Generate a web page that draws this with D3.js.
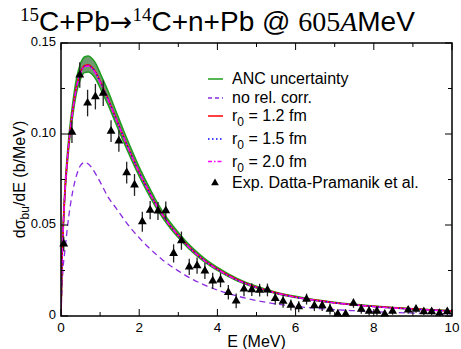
<!DOCTYPE html>
<html>
<head>
<meta charset="utf-8">
<script src="https://cdn.jsdelivr.net/npm/d3@7"></script>
<style>
  body { margin: 0; background: #fff; }
  svg { display: block; }
  .sans { font-family: "Liberation Sans", Arial, sans-serif; }
  .serif { font-family: "Liberation Serif", "Times New Roman", serif; }
</style>
</head>
<body>
<svg id="chart" width="461" height="349"></svg>
<script>
// energy grid of the theory curves (MeV)
var energyGrid = [0, 0.02, 0.05, 0.1, 0.15, 0.2, 0.3, 0.4, 0.5, 0.6, 0.7, 0.8, 0.9, 1.0, 1.2, 1.4, 1.6, 1.8, 2.0, 2.2,
    2.4, 2.6, 2.8, 3.0, 3.25, 3.5, 3.75, 4.0, 4.5, 5.0, 5.5, 6.0, 6.5, 7.0, 7.5, 8.0, 8.5, 9.0, 9.5, 10.0];

// dsigma/dE (b/MeV)
var r12 = [0, 0.025, 0.045, 0.068, 0.083, 0.095, 0.113, 0.1265, 0.134, 0.1375, 0.138, 0.1365, 0.1335, 0.129, 0.1195,
    0.109, 0.0985, 0.0885, 0.079, 0.0705, 0.0625, 0.0555, 0.0495, 0.0443, 0.0385, 0.0335, 0.0293, 0.0258, 0.0200,
    0.0158, 0.0127, 0.0104, 0.0087, 0.0073, 0.0062, 0.0053, 0.0045, 0.0039, 0.0033, 0.0028];
var r15 = [0, 0.025, 0.045, 0.068, 0.083, 0.0948, 0.1128, 0.1262, 0.1337, 0.1372, 0.1377, 0.1362, 0.1332, 0.1288, 0.1193,
    0.1088, 0.0984, 0.0884, 0.0789, 0.0704, 0.0624, 0.0554, 0.0494, 0.0442, 0.0384, 0.0334, 0.0292, 0.0257, 0.0199,
    0.0157, 0.0126, 0.0103, 0.0086, 0.0072, 0.0061, 0.0052, 0.0044, 0.0038, 0.0032, 0.0027];
var r20 = [0, 0.025, 0.045, 0.0678, 0.0828, 0.0946, 0.1125, 0.1259, 0.1334, 0.1369, 0.1374, 0.1359, 0.1329, 0.1285, 0.1191,
    0.1086, 0.0982, 0.0882, 0.0788, 0.0703, 0.0623, 0.0553, 0.0493, 0.0441, 0.0383, 0.0333, 0.0291, 0.0256, 0.0198,
    0.0157, 0.0126, 0.0103, 0.0086, 0.0072, 0.0061, 0.0052, 0.0044, 0.0038, 0.0032, 0.0027];
var ancHigh = [0, 0.026, 0.0466, 0.0704, 0.0859, 0.0983, 0.117, 0.1309, 0.1387, 0.1423, 0.1428, 0.1413, 0.1382, 0.1335,
    0.1237, 0.1128, 0.1019, 0.0916, 0.0818, 0.073, 0.0647, 0.0574, 0.0512, 0.0459, 0.0398, 0.0347, 0.0303, 0.0267,
    0.0207, 0.0164, 0.0131, 0.0108, 0.009, 0.0076, 0.0064, 0.0055, 0.0047, 0.004, 0.0034, 0.0029];
var ancLow = [0, 0.0243, 0.0437, 0.0661, 0.0807, 0.0923, 0.1098, 0.123, 0.1302, 0.1337, 0.1341, 0.1327, 0.1298, 0.1254,
    0.1162, 0.1059, 0.0957, 0.086, 0.0768, 0.0685, 0.0608, 0.0539, 0.0481, 0.0431, 0.0374, 0.0326, 0.0285, 0.0251,
    0.0194, 0.0154, 0.0123, 0.0101, 0.0085, 0.0071, 0.006, 0.0052, 0.0044, 0.0038, 0.0032, 0.0027];
var noRel = [0, 0.012, 0.025, 0.036, 0.046, 0.055, 0.0685, 0.0775, 0.0827, 0.0843, 0.0835, 0.081, 0.0775, 0.0737, 0.0655,
    0.0595, 0.0535, 0.0478, 0.043, 0.0385, 0.0345, 0.0308, 0.0276, 0.0248, 0.0215, 0.0187, 0.0163, 0.0143, 0.011,
    0.0085, 0.0066, 0.0053, 0.0043, 0.0035, 0.0029, 0.0024, 0.002, 0.0016, 0.0014, 0.0011];

// Datta-Pramanik et al. data
var expE = [0.07, 0.28, 0.48, 0.68, 0.88, 1.08, 1.28, 1.48, 1.68, 1.88, 2.08, 2.28, 2.48, 2.68, 2.88, 3.08, 3.28, 3.48,
    3.68, 3.88, 4.08, 4.28, 4.48, 4.68, 4.88, 5.08, 5.28, 5.48, 5.68, 5.88, 6.08, 6.28, 6.48, 6.68, 6.88, 7.08, 7.28,
    7.48, 7.68, 7.88, 8.08, 8.28, 8.48, 8.88, 9.08, 9.28, 9.48, 9.68, 9.88];
var expVal = [0.0396, 0.101, 0.1324, 0.117, 0.1205, 0.1224, 0.1016, 0.0962, 0.0788, 0.072, 0.0518, 0.0582, 0.0577, 0.0579,
    0.0344, 0.0414, 0.027, 0.0277, 0.0248, 0.0193, 0.0198, 0.013, 0.0083, 0.0148, 0.0145, 0.0142, 0.0143, 0.0097, 0.0081,
    0.006, 0.0051, 0.0093, 0.0057, 0.0057, 0.0038, 0.0011, 0.0011, 0.007, 0.0038, 0.0027, 0.0027, 0.0011, 0.0027, 0.0033,
    0.0038, 0.0024, 0.0024, 0.0015, 0.0024];
var expErr = [0.004, 0.006, 0.007, 0.0073, 0.007, 0.007, 0.006, 0.006, 0.006, 0.006, 0.0055, 0.005, 0.005, 0.005, 0.005,
    0.005, 0.0045, 0.0045, 0.0045, 0.0045, 0.004, 0.004, 0.004, 0.004, 0.0035, 0.0035, 0.0035, 0.0035, 0.0035, 0.003,
    0.003, 0.003, 0.003, 0.003, 0.003, 0.0025, 0.0025, 0.0025, 0.0025, 0.0025, 0.0025, 0.002, 0.002, 0.002, 0.002, 0.002,
    0.002, 0.002, 0.002];

var xTicks = [0, 2, 4, 6, 8, 10];
var yTicks = [0, 0.05, 0.10, 0.15];
var yTickLabels = ["0", "0.05", "0.10", "0.15"];

var svg = d3.select('#chart');
var margin = {top: 43, right: 9, bottom: 33, left: 61},
    width = 461 - margin.left - margin.right,
    height = 349 - margin.top - margin.bottom;
var g = svg.append('g').attr('transform', 'translate(' + margin.left + ',' + margin.top + ')');

var x = d3.scaleLinear().domain([0, 10]).range([0, width]);
var y = d3.scaleLinear().domain([0, 0.15]).range([height, 0]);

g.append('defs').append('clipPath').attr('id', 'clip')
    .append('rect').attr('width', width).attr('height', height);
var plot = g.append('g').attr('clip-path', 'url(#clip)');

function curve(vals) {
    return d3.line()
        .x(function(d, i) { return x(energyGrid[i]); })
        .y(function(d) { return y(d); })
        .curve(d3.curveMonotoneX)(vals);
}

// no relativistic correction
plot.append('path').attr('d', curve(noRel))
    .attr('fill', 'none').attr('stroke', '#8a2be2').attr('stroke-width', 1.3).attr('stroke-dasharray', '6,4');

// ANC band
var band = d3.area()
    .x(function(d, i) { return x(energyGrid[i]); })
    .y0(function(d, i) { return y(ancLow[i]); })
    .y1(function(d) { return y(d); })
    .curve(d3.curveMonotoneX);
plot.append('path').attr('d', band(ancHigh)).attr('fill', '#6f9a6f');
plot.append('path').attr('d', curve(ancHigh)).attr('fill', 'none').attr('stroke', '#1e9e1e').attr('stroke-width', 1.5);
plot.append('path').attr('d', curve(ancLow)).attr('fill', 'none').attr('stroke', '#1e9e1e').attr('stroke-width', 1.5);

plot.append('path').attr('d', curve(r12)).attr('fill', 'none').attr('stroke', '#ff0000').attr('stroke-width', 1.6);
plot.append('path').attr('d', curve(r15)).attr('fill', 'none').attr('stroke', '#0000ff').attr('stroke-width', 1.4)
    .attr('stroke-dasharray', '1.5,2');
plot.append('path').attr('d', curve(r20)).attr('fill', 'none').attr('stroke', '#ff00ff').attr('stroke-width', 1.4)
    .attr('stroke-dasharray', '5,2,1.5,2');

// data with error bars
var pts = expE.map(function(e, i) { return {e: e, v: expVal[i], err: expErr[i]}; });
var tri = d3.symbol().type(d3.symbolTriangle).size(34);
g.selectAll('.ebar').data(pts).enter().append('line')
    .attr('x1', function(d) { return x(d.e); }).attr('x2', function(d) { return x(d.e); })
    .attr('y1', function(d) { return y(Math.max(0, d.v - d.err)); })
    .attr('y2', function(d) { return y(d.v + d.err); })
    .attr('stroke', '#222').attr('stroke-width', 1.3);
g.selectAll('.pt').data(pts).enter().append('path')
    .attr('d', tri)
    .attr('transform', function(d) { return 'translate(' + x(d.e) + ',' + y(d.v) + ')'; })
    .attr('fill', '#000');

// frame and inward ticks
g.append('rect').attr('width', width).attr('height', height)
    .attr('fill', 'none').attr('stroke', '#000').attr('stroke-width', 1.5);
var tk = g.append('g').attr('stroke', '#000').attr('stroke-width', 1);
d3.range(0, 10.01, 1).forEach(function(v) {
    var len = (v % 2 === 0) ? 7 : 4;
    tk.append('line').attr('x1', x(v)).attr('x2', x(v)).attr('y1', height).attr('y2', height - len);
    tk.append('line').attr('x1', x(v)).attr('x2', x(v)).attr('y1', 0).attr('y2', len);
});
d3.range(0, 0.1501, 0.025).forEach(function(v, i) {
    var len = (i % 2 === 0) ? 7 : 4;
    tk.append('line').attr('y1', y(v)).attr('y2', y(v)).attr('x1', 0).attr('x2', len);
    tk.append('line').attr('y1', y(v)).attr('y2', y(v)).attr('x1', width).attr('x2', width - len);
});

// tick labels
g.selectAll('.xl').data(xTicks).enter().append('text').attr('class', 'sans')
    .attr('x', function(d) { return x(d); }).attr('y', height + 16)
    .attr('text-anchor', 'middle').attr('font-size', 13.5).text(function(d) { return d; });
g.selectAll('.yl').data(yTicks).enter().append('text').attr('class', 'sans')
    .attr('x', -5).attr('y', function(d) { return y(d) + 3; })
    .attr('text-anchor', 'end').attr('font-size', 13).text(function(d, i) { return yTickLabels[i]; });

// axis titles
g.append('text').attr('class', 'sans').attr('x', width / 2).attr('y', height + 31)
    .attr('text-anchor', 'middle').attr('font-size', 16).text('E (MeV)');
var yl = svg.append('text').attr('class', 'sans').attr('font-size', 16)
    .attr('transform', 'translate(25,' + (margin.top + height / 2) + ') rotate(-90)')
    .attr('text-anchor', 'middle');
yl.append('tspan').text('dσ');
yl.append('tspan').attr('font-size', 12).attr('dy', 4).text('bu');
yl.append('tspan').attr('dy', -4).text('/dE (b/MeV)');

// title
var t = svg.append('text').attr('x', 20).attr('y', 31).attr('font-size', 28);
t.append('tspan').attr('class', 'serif').attr('font-size', 19).attr('dy', -10).text('15');
t.append('tspan').attr('class', 'sans').attr('dy', 10).text('C+Pb');
t.append('tspan').attr('font-family', '"DejaVu Sans"').attr('font-size', 27).text('→');
t.append('tspan').attr('class', 'serif').attr('font-size', 19).attr('dy', -10).text('14');
t.append('tspan').attr('class', 'sans').attr('dy', 10).text('C+n+Pb @ ');
t.append('tspan').attr('class', 'serif').text('605');
t.append('tspan').attr('class', 'serif').attr('font-style', 'italic').text('A');
t.append('tspan').attr('class', 'sans').text('MeV');

// legend
var legend = [
    {label: 'ANC uncertainty', color: '#1e9e1e', dash: null, y: 79},
    {label: 'no rel. corr.', color: '#8a2be2', dash: '4,3', y: 98},
    {label: 'r', sub: '0', rest: ' = 1.2 fm', color: '#ff0000', dash: null, y: 116},
    {label: 'r', sub: '0', rest: ' = 1.5 fm', color: '#0000ff', dash: '1.5,2.5', y: 139},
    {label: 'r', sub: '0', rest: ' = 2.0 fm', color: '#ff00ff', dash: '4,2,1.5,2', y: 161.5},
    {label: 'Exp. Datta-Pramanik et al.', tri: true, y: 183}
];
var lg = svg.append('g');
legend.forEach(function(d) {
    if (d.tri) {
        lg.append('path').attr('d', d3.symbol().type(d3.symbolTriangle).size(26)())
            .attr('transform', 'translate(215,' + d.y + ')').attr('fill', '#000');
    } else {
        lg.append('line').attr('x1', 208).attr('x2', 223).attr('y1', d.y).attr('y2', d.y)
            .attr('stroke', d.color).attr('stroke-width', 1.5).attr('stroke-dasharray', d.dash);
    }
    var tx = lg.append('text').attr('class', 'sans').attr('x', 232).attr('y', d.y + 5).attr('font-size', 16);
    tx.append('tspan').text(d.label);
    if (d.sub) {
        tx.append('tspan').attr('font-size', 12).attr('dy', 5).text(d.sub);
        tx.append('tspan').attr('dy', -5).text(d.rest);
    }
});
</script>
</body>
</html>
